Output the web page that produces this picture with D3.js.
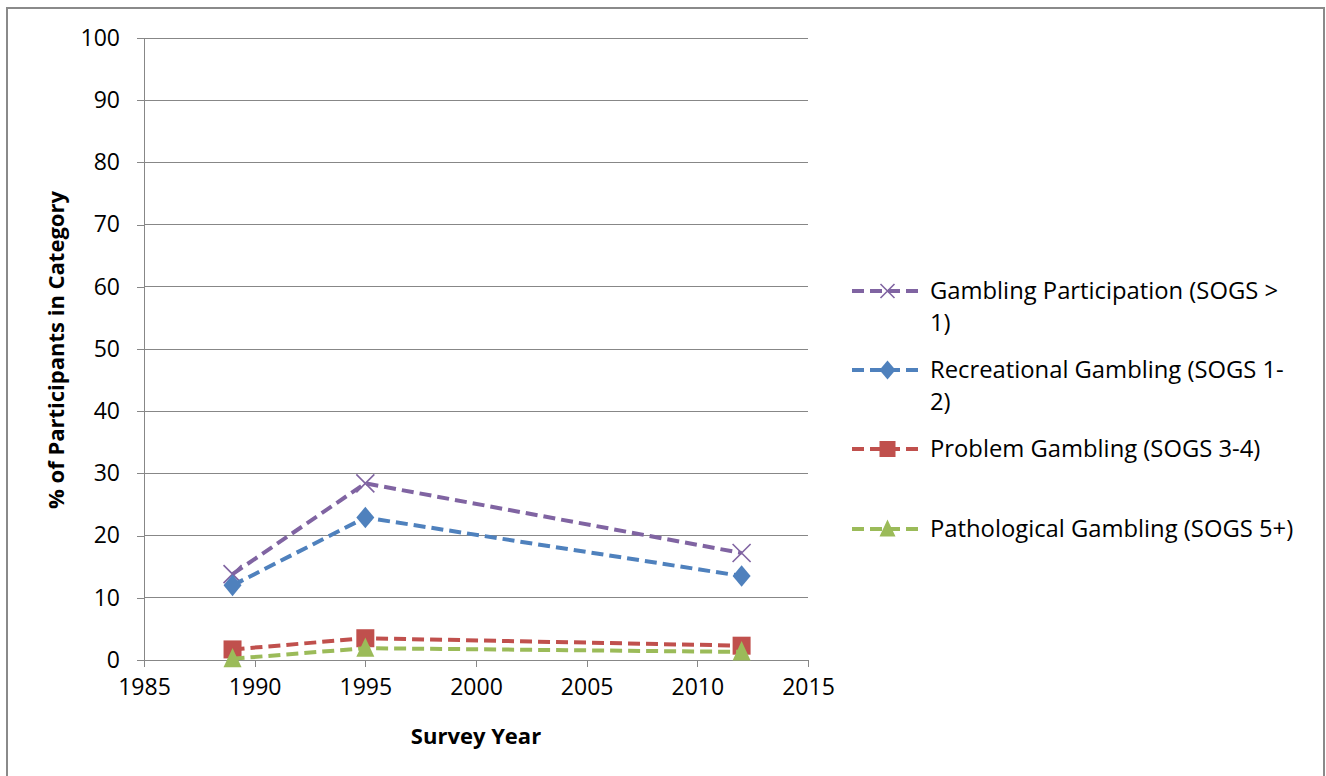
<!DOCTYPE html>
<html><head><meta charset="utf-8">
<script src="https://cdn.jsdelivr.net/npm/d3@7"></script>
<style>
html,body{margin:0;padding:0;background:#fff;overflow:hidden}
text{font-family:"Open Sans",Lato,sans-serif;fill:#000}
</style></head><body>
<svg id="c" width="1326" height="776"></svg>
<script>
const years = [1989, 1995, 2012];
const seriesNames = [
  ["Gambling Participation (SOGS >", "1)"],
  ["Recreational Gambling (SOGS 1-", "2)"],
  ["Problem Gambling (SOGS 3-4)"],
  ["Pathological Gambling (SOGS 5+)"]
];
const participation = [13.8, 28.4, 17.2];
const recreational = [12.0, 22.9, 13.5];
const problem = [1.7, 3.5, 2.3];
const pathological = [0.2, 1.9, 1.3];
const yTicks = [0,10,20,30,40,50,60,70,80,90,100];
const xTicks = [1985,1990,1995,2000,2005,2010,2015];
const colors = ["#8064A2","#4F81BD","#C0504D","#9BBB59"];
const markers = ["x","diamond","square","triangle"];
const allSeries = [participation, recreational, problem, pathological];

const svg = d3.select("#c");
svg.append("rect").attr("x",7).attr("y",8).attr("width",1317).attr("height",800)
  .attr("fill","#fff").attr("stroke","#8a8a8a").attr("stroke-width",2);

const x = d3.scaleLinear().domain([1985,2015]).range([144,808]);
const y = d3.scaleLinear().domain([0,100]).range([660,38]);
const grid = "#878787";

svg.append("g").selectAll("line").data(yTicks.slice(1)).join("line")
  .attr("x1",144).attr("x2",808).attr("y1",d=>y(d)).attr("y2",d=>y(d))
  .attr("stroke",grid).attr("stroke-width",1).attr("shape-rendering","crispEdges");

const yAxis = svg.append("g").attr("transform","translate(144,0)")
  .call(d3.axisLeft(y).tickValues(yTicks).tickSize(7).tickPadding(17));
const xAxis = svg.append("g").attr("transform","translate(0,660)")
  .call(d3.axisBottom(x).tickValues(xTicks).tickFormat(d3.format("d")).tickSize(7).tickPadding(12));
[yAxis,xAxis].forEach(a=>{
  a.selectAll("path,line").attr("stroke",grid).attr("stroke-width",1).attr("shape-rendering","crispEdges");
  a.select("path.domain").attr("d", a===yAxis ? "M0,38V660" : "M144,0H808");
  a.selectAll("text").attr("font-size",23).attr("font-family","'Open Sans',sans-serif").attr("fill","#000");
});

svg.append("text").attr("x",476).attr("y",744).attr("text-anchor","middle")
  .attr("font-size",22).attr("font-weight","bold").text("Survey Year");
svg.append("text").attr("transform","translate(64,350) rotate(-90)").attr("text-anchor","middle")
  .attr("font-size",22).attr("font-weight","bold").text("% of Participants in Category");

function drawMarker(g, type, cx, cy, color, s){
  if(type==="x"){
    g.append("path").attr("d",`M${cx-s},${cy-s}L${cx+s},${cy+s}M${cx-s},${cy+s}L${cx+s},${cy-s}`)
      .attr("stroke",color).attr("stroke-width",1.6).attr("fill","none");
  } else if(type==="diamond"){
    g.append("path").attr("d",`M${cx},${cy-s*1.2}L${cx+s},${cy}L${cx},${cy+s*1.2}L${cx-s},${cy}Z`).attr("fill",color);
  } else if(type==="square"){
    g.append("rect").attr("x",cx-s).attr("y",cy-s).attr("width",2*s).attr("height",2*s).attr("fill",color);
  } else {
    g.append("path").attr("d",`M${cx},${cy-s*1.2}L${cx+s},${cy+s*0.95}L${cx-s},${cy+s*0.95}Z`).attr("fill",color);
  }
}

const line = d3.line().x((d,i)=>x(years[i])).y(d=>y(d));
allSeries.forEach((vals,k)=>{
  const g = svg.append("g");
  g.append("path").attr("d",line(vals)).attr("fill","none").attr("stroke",colors[k])
    .attr("stroke-width",4).attr("stroke-dasharray","12,6");
  vals.forEach((v,i)=>drawMarker(g, markers[k], x(years[i]), y(v), colors[k], 9));
});

const legendY = [291, 370, 449, 529];
seriesNames.forEach((lines,k)=>{
  const g = svg.append("g");
  const cy = legendY[k];
  g.append("line").attr("x1",852).attr("x2",923).attr("y1",cy).attr("y2",cy)
    .attr("stroke",colors[k]).attr("stroke-width",4).attr("stroke-dasharray","12,6");
  drawMarker(g, markers[k], 887.5, cy, colors[k], k===0?7:8);
  lines.forEach((t,j)=>{
    g.append("text").attr("x",930).attr("y",cy+8+j*32).attr("font-size",23.8).text(t);
  });
});
</script>
</body></html>
